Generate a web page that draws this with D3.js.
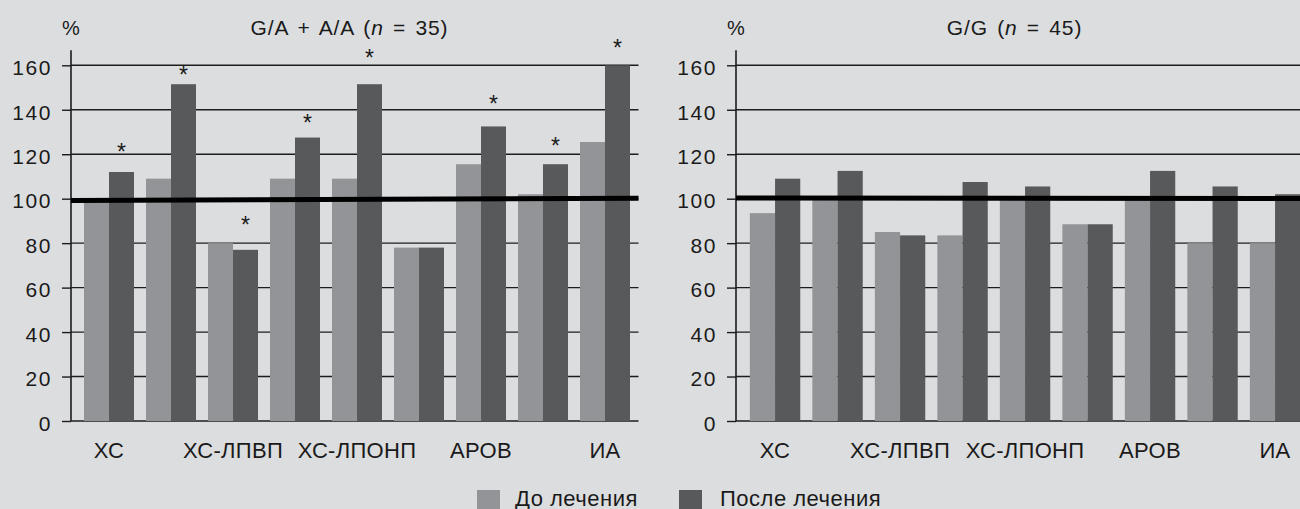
<!DOCTYPE html>
<html>
<head>
<meta charset="utf-8">
<script src="https://cdn.jsdelivr.net/npm/d3@7"></script>
<style>
  html, body { margin: 0; padding: 0; background: #dcdddf; }
  svg { display: block; }
  text { font-family: "Liberation Sans", Arial, sans-serif; fill: #1a1a1a; }
</style>
</head>
<body>
<svg id="chart" width="1300" height="509"></svg>
<script>
// ---------- data ----------
const categories = [0, 1, 2, 3, 4, 5, 6, 7, 8];
const tickLabels = ["ХС", "", "ХС-ЛПВП", "", "ХС-ЛПОНП", "", "АРОВ", "", "ИА"];
const yTicks = [0, 20, 40, 60, 80, 100, 120, 140, 160];
const seriesNames = ["До лечения", "После лечения"];

// G/A + A/A (n = 35)
const leftBefore = [100, 109, 80, 109, 109, 78, 115.5, 102, 125.5];
const leftAfter  = [112, 151.5, 77, 127.5, 151.5, 78, 132.5, 115.5, 160];
const leftStars  = [123.4, 157.9, 90.4, 136.4, 165.4, null, 144.7, 126.1, 170.2];
const leftRef    = [99.2, 100.2];
const leftTitle  = ["G/A + A/A (", "n", " = 35)"];

// G/G (n = 45)
const rightBefore = [93.5, 100, 85, 83.5, 100, 88.5, 100, 80, 80];
const rightAfter  = [109, 112.5, 83.5, 107.5, 105.5, 88.5, 112.5, 105.5, 102];
const rightStars  = [null, null, null, null, null, null, null, null, null];
const rightRef    = [100.3, 100.1];
const rightTitle  = ["G/G (", "n", " = 45)"];

// ---------- styles ----------
const colBefore = "#939497";
const colAfter = "#58595b";
const colLine = "#1c1c1c";

const svg = d3.select("#chart");
svg.append("rect").attr("width", 1300).attr("height", 509).attr("fill", "#dcdddf");

const y = d3.scaleLinear().domain([0, 160]).range([421, 65.3]);

const panels = [
  { before: leftBefore, after: leftAfter, stars: leftStars, ref: leftRef, title: leftTitle,
    axisX: 71, xRange: [78, 636], gridEnd: 638.5 },
  { before: rightBefore, after: rightAfter, stars: rightStars, ref: rightRef, title: rightTitle,
    axisX: 736, xRange: [743.8, 1306.3], gridEnd: 1300 }
];

panels.forEach(p => {
  const g = svg.append("g");
  const x0 = d3.scaleBand().domain(categories).range(p.xRange)
    .paddingInner(0.1935).paddingOuter(0.0968);
  const x1 = d3.scaleBand().domain(["before", "after"]).range([0, x0.bandwidth()]);

  // gridlines
  g.append("g").selectAll("line").data(yTicks).join("line")
    .attr("x1", p.axisX).attr("x2", p.gridEnd)
    .attr("y1", d => y(d)).attr("y2", d => y(d))
    .attr("stroke", colLine).attr("stroke-width", 1.4);

  // bars
  const rows = categories.map((c, i) => ({ c, before: p.before[i], after: p.after[i], star: p.stars[i] }));
  const grp = g.append("g").selectAll("g").data(rows).join("g")
    .attr("transform", d => `translate(${x0(d.c)},0)`);
  grp.append("rect")
    .attr("x", x1("before")).attr("width", x1.bandwidth())
    .attr("y", d => y(d.before)).attr("height", d => y(0) - y(d.before))
    .attr("fill", colBefore);
  grp.append("rect")
    .attr("x", x1("after")).attr("width", x1.bandwidth())
    .attr("y", d => y(d.after)).attr("height", d => y(0) - y(d.after))
    .attr("fill", colAfter);

  // y axis with ticks + labels
  const axis = d3.axisLeft(y).tickValues(yTicks).tickSize(9).tickPadding(10);
  const ag = g.append("g").attr("transform", `translate(${p.axisX},0)`).call(axis);
  ag.select(".domain").remove();
  ag.selectAll(".tick line").attr("stroke", colLine).attr("stroke-width", 1.4);
  ag.selectAll(".tick text")
    .attr("font-family", "Liberation Sans, Arial, sans-serif")
    .attr("font-size", 21).attr("letter-spacing", "1.6px")
    .attr("dy", "0.44em").attr("fill", "#1a1a1a");
  // vertical axis line
  g.append("line")
    .attr("x1", p.axisX).attr("x2", p.axisX)
    .attr("y1", y(160) - 15).attr("y2", y(0))
    .attr("stroke", colLine).attr("stroke-width", 1.6);

  // thick 100% reference line
  g.append("line")
    .attr("x1", p.axisX).attr("x2", p.gridEnd)
    .attr("y1", y(p.ref[0])).attr("y2", y(p.ref[1]))
    .attr("stroke", "#000").attr("stroke-width", 5);

  // significance stars
  grp.filter(d => d.star != null).append("text")
    .attr("x", x1("after") + x1.bandwidth() / 2)
    .attr("y", d => y(d.star))
    .attr("dy", 13)
    .attr("text-anchor", "middle")
    .attr("font-size", 23)
    .text("*");

  // x labels
  g.append("g").selectAll("text").data(categories).join("text")
    .attr("x", d => x0(d) + x0.bandwidth() / 2)
    .attr("y", 458)
    .attr("text-anchor", "middle")
    .attr("font-size", 22).attr("letter-spacing", "0.3px")
    .text(d => tickLabels[d]);

  // % label
  g.append("text").attr("x", p.axisX - 9).attr("y", 35)
    .attr("font-size", 20).text("%");

  // title
  const cx = (p.axisX + p.axisX + 567) / 2 - 5;
  const t = g.append("text").attr("x", cx).attr("y", 35)
    .attr("text-anchor", "middle").attr("font-size", 21)
    .attr("letter-spacing", "0.9px").attr("word-spacing", "2.5px");
  t.append("tspan").text(p.title[0]);
  t.append("tspan").attr("font-style", "italic").text(p.title[1]);
  t.append("tspan").text(p.title[2]);
});

// legend
const legendX = [477, 679];
const legend = svg.append("g").selectAll("g").data(seriesNames).join("g")
  .attr("transform", (d, i) => `translate(${legendX[i]},490)`);
legend.append("rect").attr("width", 23).attr("height", 23)
  .attr("fill", (d, i) => i === 0 ? colBefore : colAfter);
legend.append("text").attr("x", (d, i) => i === 0 ? 38 : 41).attr("y", 15.5)
  .attr("font-size", 22).attr("letter-spacing", "0.5px")
  .text(d => d);
</script>
</body>
</html>
